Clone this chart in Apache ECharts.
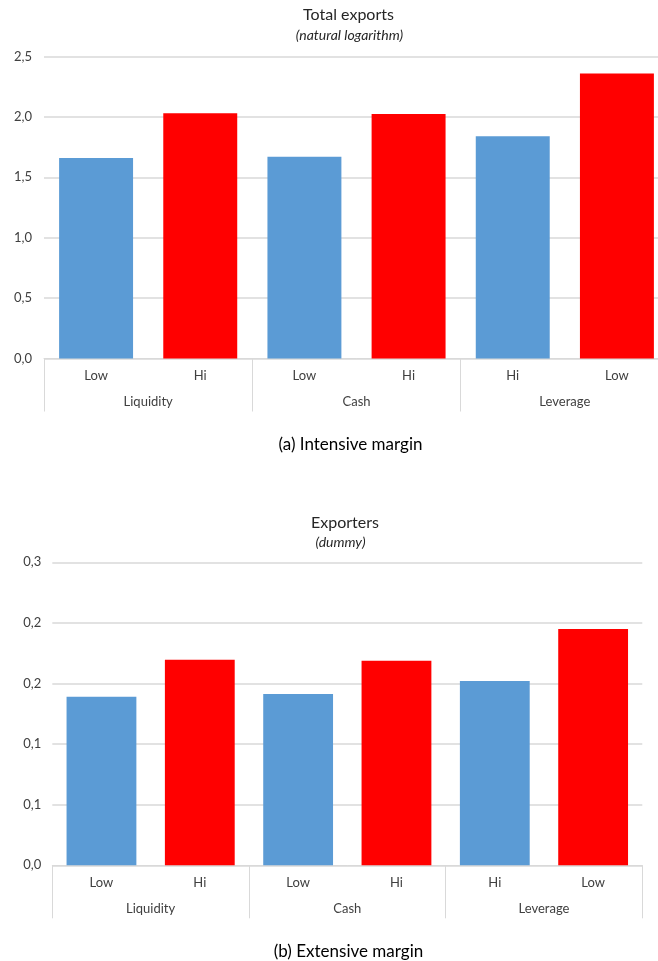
<!DOCTYPE html>
<html>
<head>
<meta charset="utf-8">
<script src="https://cdn.jsdelivr.net/npm/echarts@6/dist/echarts.min.js"></script>
<style>
  html, body { margin: 0; padding: 0; background: #ffffff; overflow: hidden; }
  /* canvas runs a little past the right edge so the last bar of panel (a) is cut off there */
  #chart { width: 700px; height: 961px; }
</style>
</head>
<body>
<div id="chart"></div>
<script>
// Sub-categories (bottom level) and groups (second level) of both panels
const subCatsA = ['Low', 'Hi', 'Low', 'Hi', 'Hi', 'Low'];
const subCatsB = ['Low', 'Hi', 'Low', 'Hi', 'Hi', 'Low'];
const groups = ['Liquidity', 'Cash', 'Leverage'];

// Panel (a): total exports, natural logarithm
const totalExports = [1.66, 2.03, 1.67, 2.025, 1.84, 2.36];
// Panel (b): exporters dummy
const exporters = [0.139, 0.1695, 0.1413, 0.1687, 0.152, 0.195];

// Y tick labels
const ticksA = ['0,0', '0,5', '1,0', '1,5', '2,0', '2,5'];
const ticksB = ['0,0', '0,1', '0,1', '0,2', '0,2', '0,3'];

const FONT = 'Lato, "Open Sans", sans-serif';
const BLUE = '#5b9bd5';
const RED = '#ff0000';
const GRID_LINE = '#d9d9d9';

function coloured(values) {
  return values.map((v, i) => ({
    value: v,
    itemStyle: { color: i % 2 === 0 ? BLUE : RED }
  }));
}

function tickFormatter(labels, step) {
  return v => labels[Math.round(v / step)] ?? '';
}

function subAxis(gridIndex, cats) {
  return {
    type: 'category', gridIndex, position: 'bottom', data: cats,
    axisLine: { show: true, lineStyle: { color: GRID_LINE, width: 1 } },
    axisTick: { show: false },
    axisLabel: { color: '#404040', fontFamily: FONT, fontSize: 13, margin: 11, interval: 0 }
  };
}

function groupAxis(gridIndex) {
  return {
    type: 'category', gridIndex, position: 'bottom', data: groups,
    axisLine: { show: false },
    axisTick: { show: true, length: 53, interval: 0, lineStyle: { color: GRID_LINE, width: 1 } },
    axisLabel: { color: '#404040', fontFamily: FONT, fontSize: 13, margin: 37, interval: 0 }
  };
}

function valueAxis(gridIndex, max, step, labels, margin) {
  return {
    type: 'value', gridIndex, min: 0, max, interval: step,
    axisLine: { show: false }, axisTick: { show: false },
    splitLine: { show: true, lineStyle: { color: GRID_LINE, width: 1.5 } },
    axisLabel: { color: '#404040', fontFamily: FONT, fontSize: 13, margin, formatter: tickFormatter(labels, step) }
  };
}

const chart = echarts.init(document.getElementById('chart'), null, { renderer: 'canvas' });

chart.setOption({
  animation: false,
  backgroundColor: '#ffffff',
  title: [
    { text: 'Total exports', left: 343.5, top: 2, textAlign: 'center',
      textStyle: { fontFamily: FONT, fontSize: 16, fontWeight: 'normal', color: '#262626' } },
    { text: '(natural logarithm)', left: 344.5, top: 23, textAlign: 'center',
      textStyle: { fontFamily: FONT, fontSize: 14, fontStyle: 'italic', fontWeight: 'normal', color: '#262626' } },
    { text: '(a) Intensive margin', left: 345.5, top: 431, textAlign: 'center',
      textStyle: { fontFamily: FONT, fontSize: 17, fontWeight: 'normal', color: '#000000' } },
    { text: 'Exporters', left: 340, top: 510, textAlign: 'center',
      textStyle: { fontFamily: FONT, fontSize: 16, fontWeight: 'normal', color: '#262626' } },
    { text: '(dummy)', left: 335.5, top: 530, textAlign: 'center',
      textStyle: { fontFamily: FONT, fontSize: 14, fontStyle: 'italic', fontWeight: 'normal', color: '#262626' } },
    { text: '(b) Extensive margin', left: 343.5, top: 938, textAlign: 'center',
      textStyle: { fontFamily: FONT, fontSize: 17, fontWeight: 'normal', color: '#000000' } }
  ],
  grid: [
    { left: 44, width: 625, top: 56.5, height: 302, containLabel: false },
    { left: 52.3, width: 590, top: 562.3, height: 303, containLabel: false }
  ],
  xAxis: [
    subAxis(0, subCatsA),
    groupAxis(0),
    subAxis(1, subCatsB),
    groupAxis(1)
  ],
  yAxis: [
    valueAxis(0, 2.5, 0.5, ticksA, 12),
    valueAxis(1, 0.25, 0.05, ticksB, 11)
  ],
  series: [
    { type: 'bar', xAxisIndex: 0, yAxisIndex: 0, barCategoryGap: '29%', data: coloured(totalExports) },
    { type: 'bar', xAxisIndex: 2, yAxisIndex: 1, barCategoryGap: '29%', data: coloured(exporters) }
  ]
});
</script>
</body>
</html>
